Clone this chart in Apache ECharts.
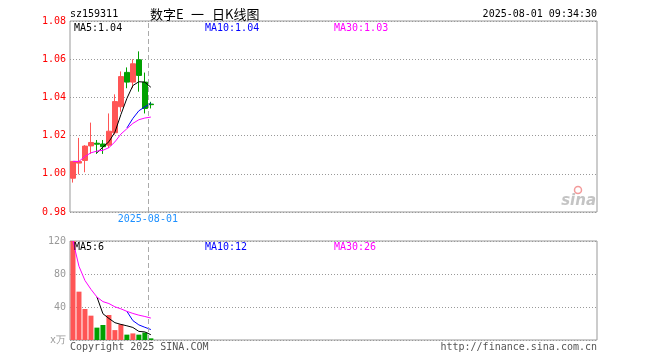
<!DOCTYPE html>
<html><head><meta charset="utf-8">
<script src="https://cdn.jsdelivr.net/npm/echarts@6/dist/echarts.min.js"></script>
<style>html,body{margin:0;padding:0;background:#fff}#c{width:660px;height:360px}</style>
</head><body><div id="c"></div>
<script>
const symbolText = 'sz159311';
const titleParts = ['数字E', '一', '日K线图'];
const timeText = '2025-08-01 09:34:30';
const lastDate = '2025-08-01';
const dates = ['2025-07-15','2025-07-16','2025-07-17','2025-07-18','2025-07-21','2025-07-22','2025-07-23',
               '2025-07-24','2025-07-25','2025-07-28','2025-07-29','2025-07-30','2025-07-31','2025-08-01'];
const totalSlots = 88;
const opens  = [0.9977,1.0056,1.0070,1.0146,1.0160,1.0156,1.0150,1.0215,1.0351,1.0531,1.0480,1.0597,1.0480,1.0365];
const closes = [1.0065,1.0064,1.0145,1.0164,1.0155,1.0142,1.0223,1.0378,1.0509,1.0480,1.0576,1.0515,1.0342,1.0362];
const lows   = [0.9954,0.9997,1.0008,1.0104,1.0104,1.0104,1.0135,1.0205,1.0325,1.0448,1.0448,1.0430,1.0316,1.0342];
const highs  = [1.0066,1.0188,1.0150,1.0268,1.0177,1.0177,1.0316,1.0416,1.0536,1.0557,1.0600,1.0641,1.0530,1.0377];
const ma5  = [null,null,null,null,1.0110,1.0140,1.0168,1.0218,1.0310,1.0395,1.0462,1.0482,1.0480,1.0453];
const ma10 = [null,null,null,null,null,null,null,null,null,1.0240,1.0290,1.0330,1.0350,1.0370];
const ma30 = [1.0065,1.0065,1.0091,1.0110,1.0119,1.0123,1.0137,1.0167,1.0208,1.0236,1.0264,1.0283,1.0292,1.0297];
const volumes = [120,58.6,37.6,29.5,15,18.2,30.3,12,19,6.5,8,6.5,9,2];
const volMa5  = [null,null,null,null,52.1,31.8,26.1,21.0,18.9,17.2,15.2,10.4,9.8,6.4];
const volMa10 = [null,null,null,null,null,null,null,null,null,34.7,23.5,18.3,15.4,12.7];
const volMa30 = [120,89.3,72.1,61.4,52.1,46.5,44.2,40.2,37.8,34.7,32.2,30.1,28.5,26.6];
const legendMain = ['MA5:1.04','MA10:1.04','MA30:1.03'];
const legendVol = ['MA5:6','MA10:12','MA30:26'];
const priceMin = 0.98, priceMax = 1.08, priceStep = 0.02;
const volMin = 0, volMax = 120, volStep = 40;
const markSlot = 13;

const UP = '#ff5555', DOWN = '#00a000';
const MONO = '"DejaVu Sans Mono", monospace';
const cats = [];
for (let i = 0; i < totalSlots; i++) cats.push(i < dates.length ? dates[i] : 'x' + i);
const kData = dates.map((d, i) => [opens[i], closes[i], lows[i], highs[i]]);
const volData = volumes.map((v, i) => ({value: v, itemStyle: {color: closes[i] >= opens[i] ? UP : DOWN}}));

const chart = echarts.init(document.getElementById('c'), null, {renderer: 'canvas'});
const lineS = (name, data, color, xi, yi, z) => ({
  name, type: 'line', data, xAxisIndex: xi, yAxisIndex: yi, symbol: 'none', connectNulls: false,
  lineStyle: {color, width: 1}, itemStyle: {color}, z, silent: true, animation: false
});
const dashStyle = {color: '#aaa', width: 1, type: [5, 3]};
const txt = (text, x, y, fill, extra) => ({type: 'text', silent: true, z: 100,
  style: Object.assign({text, x, y, fill, font: '10px ' + MONO, verticalAlign: 'middle'}, extra || {})});

chart.setOption({
  animation: false,
  grid: [
    {left: 70, top: 21, width: 527, height: 191, show: true, borderColor: '#999', borderWidth: 1},
    {left: 70, top: 241, width: 527, height: 99, show: true, borderColor: '#999', borderWidth: 1}
  ],
  xAxis: [
    {type: 'category', data: cats, gridIndex: 0, boundaryGap: true, axisLine: {show: false}, axisTick: {show: false}, axisLabel: {show: false}, splitLine: {show: false}},
    {type: 'category', data: cats, gridIndex: 1, boundaryGap: true, axisLine: {show: false}, axisTick: {show: false}, axisLabel: {show: false}, splitLine: {show: false}},
    {type: 'value', gridIndex: 0, min: 0, max: totalSlots, show: false},
    {type: 'value', gridIndex: 1, min: 0, max: totalSlots, show: false}
  ],
  yAxis: [
    {type: 'value', gridIndex: 0, min: priceMin, max: priceMax, interval: priceStep, scale: true,
     axisLine: {show: false}, axisTick: {show: false},
     axisLabel: {color: '#ff0000', fontFamily: MONO, fontSize: 10, margin: 4, formatter: v => v.toFixed(2)},
     splitLine: {lineStyle: {color: '#999', type: [1, 2], width: 1}}},
    {type: 'value', gridIndex: 1, min: volMin, max: volMax, interval: volStep,
     axisLine: {show: false}, axisTick: {show: false},
     axisLabel: {color: '#999', fontFamily: MONO, fontSize: 10, margin: 4, formatter: v => v === 0 ? 'x万' : String(v)},
     splitLine: {lineStyle: {color: '#999', type: [1, 2], width: 1}}}
  ],
  series: [
    {type: 'candlestick', data: kData, xAxisIndex: 0, yAxisIndex: 0, barWidth: 5, z: 2,
     itemStyle: {color: UP, color0: DOWN, borderColor: UP, borderColor0: DOWN, borderWidth: 1}},
    lineS('MA5', ma5, '#000000', 0, 0, 3),
    lineS('MA10', ma10, '#0000ff', 0, 0, 4),
    lineS('MA30', ma30, '#ff00ff', 0, 0, 5),
    {type: 'bar', data: volData, xAxisIndex: 1, yAxisIndex: 1, barWidth: 5, z: 2},
    lineS('VMA5', volMa5, '#000000', 1, 1, 3),
    lineS('VMA10', volMa10, '#0000ff', 1, 1, 4),
    lineS('VMA30', volMa30, '#ff00ff', 1, 1, 5),
    {type: 'line', data: [], xAxisIndex: 2, yAxisIndex: 0, z: 1,
     markLine: {symbol: 'none', silent: true, animation: false, lineStyle: dashStyle,
       label: {show: true, position: 'start', distance: 2, formatter: lastDate, color: '#1e90ff', fontFamily: MONO, fontSize: 10},
       data: [{xAxis: markSlot}]}},
    {type: 'line', data: [], xAxisIndex: 3, yAxisIndex: 1, z: 1,
     markLine: {symbol: 'none', silent: true, animation: false, lineStyle: dashStyle, label: {show: false},
       data: [{xAxis: markSlot}]}}
  ],
  graphic: [
    txt(symbolText, 70, 14, '#000'),
    txt(titleParts[0], 150, 14, '#000', {font: '13px "Noto Sans CJK SC"'}),
    txt(titleParts[1], 191, 14, '#000', {font: '13px "Noto Sans CJK SC"'}),
    txt(titleParts[2], 212, 14, '#000', {font: '13px "Noto Sans CJK SC"'}),
    txt(timeText, 597, 14, '#000', {align: 'right'}),
    txt(legendMain[0], 74, 28, '#000'),
    txt(legendMain[1], 205, 28, '#0000ff'),
    txt(legendMain[2], 334, 28, '#ff00ff'),
    txt(legendVol[0], 74, 247, '#000'),
    txt(legendVol[1], 205, 247, '#0000ff'),
    txt(legendVol[2], 334, 247, '#ff00ff'),
    txt('Copyright 2025 SINA.COM', 70, 347, '#555'),
    txt('http://finance.sina.com.cn', 597, 347, '#555', {align: 'right'}),
    {type: 'text', silent: true, z: 100, style: {text: 'sina', x: 596, y: 201, align: 'right', verticalAlign: 'middle',
      font: 'italic bold 15px "DejaVu Sans"', fill: '#c4c4c4'}},
    {type: 'circle', silent: true, z: 100, shape: {cx: 578, cy: 190, r: 3.5}, style: {fill: 'none', stroke: '#f39a9a', lineWidth: 1.5}}
  ]
});
</script></body></html>
